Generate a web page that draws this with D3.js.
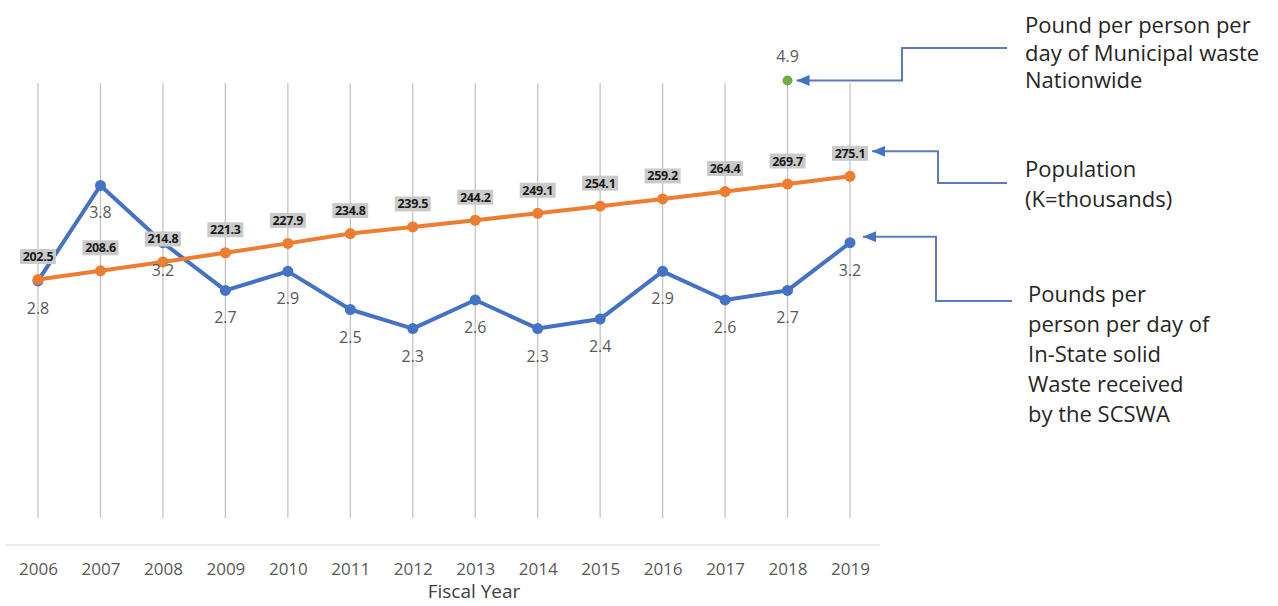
<!DOCTYPE html>
<html>
<head>
<meta charset="utf-8">
<script src="https://cdn.jsdelivr.net/npm/d3@7"></script>
<style>
  body { margin: 0; background: #fff; }
  svg { display: block; font-family: "Open Sans", sans-serif; }
</style>
</head>
<body>
<script>
const width = 1278;
const height = 606;

// data
const years = ["2006","2007","2008","2009","2010","2011","2012","2013","2014","2015","2016","2017","2018","2019"];
const poundsInState = [2.8, 3.8, 3.2, 2.7, 2.9, 2.5, 2.3, 2.6, 2.3, 2.4, 2.9, 2.6, 2.7, 3.2];
const population = [202.5, 208.6, 214.8, 221.3, 227.9, 234.8, 239.5, 244.2, 249.1, 254.1, 259.2, 264.4, 269.7, 275.1];
const nationwide = [{ year: "2018", value: 4.9 }];

const notes = [
  { lines: ["Pound per person per", "day of Municipal waste", "Nationwide"] },
  { lines: ["Population", "(K=thousands)"] },
  { lines: ["Pounds per", "person per day of", "In-State solid", "Waste received", "by the SCSWA"] }
];

const blue = "#4472C4", orange = "#ED7D31", green = "#70AD47";

const x = d3.scalePoint().domain(years).range([38, 850]);
const yLbs = d3.scaleLinear().domain([0, 5]).range([548, 71]);
const yPop = d3.scaleLinear().domain([0, 350]).range([567, 70]);

const svg = d3.select(document.body).append("svg")
  .attr("width", width).attr("height", height);

// vertical grid lines
svg.append("g")
  .attr("stroke", "#c4c4c4")
  .attr("stroke-width", 1.3)
  .selectAll("line")
  .data(years)
  .join("line")
  .attr("x1", d => x(d)).attr("x2", d => x(d))
  .attr("y1", 83).attr("y2", 518);

// category axis
const axis = svg.append("g")
  .attr("transform", "translate(0,545)")
  .call(d3.axisBottom(x).tickSize(0).tickPadding(18));
axis.select(".domain").attr("stroke", "#d9d9d9").attr("d", "M5,0H880");
axis.selectAll("text")
  .attr("font-family", "Open Sans")
  .attr("font-size", 17)
  .attr("fill", "#595959");

svg.append("text")
  .attr("x", 474).attr("y", 598)
  .attr("text-anchor", "middle")
  .attr("font-size", 19)
  .attr("fill", "#404040")
  .text("Fiscal Year");

const lbsData = years.map((yr, i) => ({ year: yr, value: poundsInState[i] }));
const popData = years.map((yr, i) => ({ year: yr, value: population[i] }));

// in-state pounds series
svg.append("path")
  .datum(lbsData)
  .attr("fill", "none")
  .attr("stroke", blue)
  .attr("stroke-width", 4)
  .attr("stroke-linejoin", "round")
  .attr("d", d3.line().x(d => x(d.year)).y(d => yLbs(d.value)));

svg.append("g")
  .attr("fill", blue)
  .selectAll("circle")
  .data(lbsData)
  .join("circle")
  .attr("cx", d => x(d.year)).attr("cy", d => yLbs(d.value))
  .attr("r", 5.5);

// population series
svg.append("path")
  .datum(popData)
  .attr("fill", "none")
  .attr("stroke", orange)
  .attr("stroke-width", 4)
  .attr("stroke-linejoin", "round")
  .attr("d", d3.line().x(d => x(d.year)).y(d => yPop(d.value)));

svg.append("g")
  .attr("fill", orange)
  .selectAll("circle")
  .data(popData)
  .join("circle")
  .attr("cx", d => x(d.year)).attr("cy", d => yPop(d.value))
  .attr("r", 5.5);

// nationwide point
svg.append("g")
  .selectAll("circle")
  .data(nationwide)
  .join("circle")
  .attr("cx", d => x(d.year)).attr("cy", d => yLbs(d.value))
  .attr("r", 5)
  .attr("fill", green);

svg.append("g")
  .selectAll("text")
  .data(nationwide)
  .join("text")
  .attr("x", d => x(d.year)).attr("y", d => yLbs(d.value) - 19)
  .attr("text-anchor", "middle")
  .attr("font-size", 16)
  .attr("fill", "#595959")
  .text(d => d.value.toFixed(1));

// labels for pounds, below points
svg.append("g")
  .selectAll("text")
  .data(lbsData)
  .join("text")
  .attr("x", d => x(d.year)).attr("y", d => yLbs(d.value) + 33)
  .attr("text-anchor", "middle")
  .attr("font-size", 16)
  .attr("fill", "#595959")
  .text(d => d.value.toFixed(1));

// labels for population, gray boxes above points
const popLabel = svg.append("g")
  .selectAll("g")
  .data(popData)
  .join("g")
  .attr("transform", d => `translate(${x(d.year)},${yPop(d.value) - 23})`);

popLabel.append("rect")
  .attr("x", -18).attr("y", -7.5)
  .attr("width", 36).attr("height", 15)
  .attr("fill", "#cacaca");

popLabel.append("text")
  .attr("text-anchor", "middle")
  .attr("dy", "0.36em")
  .attr("font-size", 12.5)
  .attr("font-weight", "bold")
  .attr("letter-spacing", -0.3)
  .attr("fill", "#1a1a1a")
  .text(d => d.value.toFixed(1));

// callouts
const defs = svg.append("defs");
defs.append("marker")
  .attr("id", "arrow")
  .attr("viewBox", "0 0 12 10")
  .attr("refX", 0).attr("refY", 5)
  .attr("markerWidth", 6.5).attr("markerHeight", 5.5)
  .attr("markerUnits", "strokeWidth")
  .attr("orient", "auto")
  .append("path")
  .attr("d", "M0,5L12,0L12,10Z")
  .attr("fill", blue);

const nat = nationwide[0];
const last = years.length - 1;
const callouts = [
  { x0: x(nat.year) + 9, y0: yLbs(nat.value), xm: 902, y1: 48, x1: 1007 },
  { x0: x(years[last]) + 22, y0: yPop(population[last]) - 25, xm: 938, y1: 183, x1: 1007 },
  { x0: x(years[last]) + 13, y0: yLbs(poundsInState[last]) - 6, xm: 936, y1: 301, x1: 1012 }
];

svg.append("g")
  .attr("fill", "none")
  .attr("stroke", "#5b7cbd")
  .attr("stroke-width", 2)
  .selectAll("path")
  .data(callouts)
  .join("path")
  .attr("marker-start", "url(#arrow)")
  .attr("d", d => `M${d.x0},${d.y0}H${d.xm}V${d.y1}H${d.x1}`);

const textPos = [
  { x: 1025, y: 33, lh: 27.5 },
  { x: 1025, y: 177, lh: 30 },
  { x: 1028, y: 302, lh: 30 }
];

notes.forEach((n, i) => {
  svg.append("text")
    .attr("x", textPos[i].x).attr("y", textPos[i].y)
    .attr("font-size", 22)
    .attr("fill", "#262626")
    .selectAll("tspan")
    .data(n.lines)
    .join("tspan")
    .attr("x", textPos[i].x)
    .attr("dy", (d, j) => j === 0 ? 0 : textPos[i].lh)
    .text(d => d);
});
</script>
</body>
</html>
